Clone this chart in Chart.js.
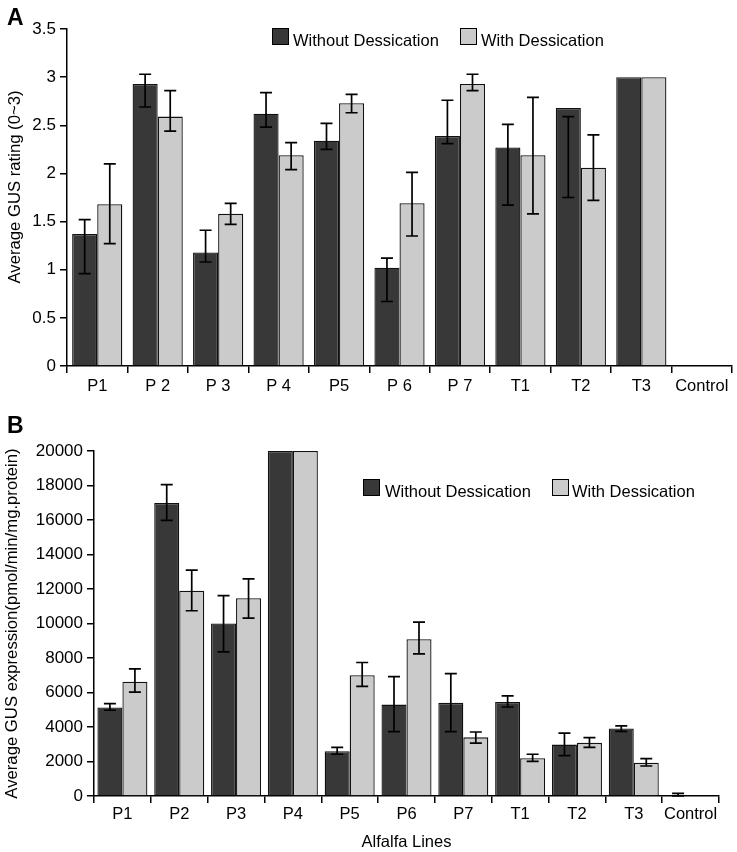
<!DOCTYPE html>
<html>
<head>
<meta charset="utf-8">
<script src="https://cdn.jsdelivr.net/npm/chart.js@4/dist/chart.umd.min.js"></script>
<style>
  body { margin: 0; background: #fff; font-family: "Liberation Sans", Arial, sans-serif; }
  #page { position: relative; width: 737px; height: 852px; overflow: hidden; }
  .panel { position: absolute; left: 0; width: 737px; }
  .tag { position: absolute; font-weight: bold; font-size: 23px; color: #000; }
  .leg { position: absolute; font-size: 16.5px; color: #000; line-height: 16px; white-space: nowrap; }
  .box { position: absolute; width: 15px; height: 15px; border: 1px solid #000; }
  .ytitle { position: absolute; font-size: 16.7px; color: #000; white-space: nowrap;
            transform: translate(-50%, -50%) rotate(-90deg); line-height: 18px; }
</style>
</head>
<body>
<div id="page">
  <div class="panel" style="top:0;height:400px"><canvas id="chartA"></canvas></div>
  <div class="panel" style="top:400px;height:452px"><canvas id="chartB"></canvas></div>

  <div class="tag" style="left:7px;top:4px">A</div>
  <div class="tag" style="left:7px;top:412px">B</div>
  <div class="ytitle" style="left:15px;top:187px">Average GUS rating (0~3)</div>

  <div class="box" style="left:272px;top:28px;background:#383838"></div>
  <div class="leg" style="left:293px;top:32px">Without Dessication</div>
  <div class="box" style="left:460px;top:28px;background:#cbcbcb"></div>
  <div class="leg" style="left:481px;top:32px">With Dessication</div>

  <div class="box" style="left:363px;top:479px;background:#383838"></div>
  <div class="leg" style="left:385px;top:483px">Without Dessication</div>
  <div class="box" style="left:552px;top:479px;background:#cbcbcb"></div>
  <div class="leg" style="left:572px;top:483px">With Dessication</div>
</div>
<script>
// Panel A: GUS rating
const categoriesA = ['P1', 'P 2', 'P 3', 'P 4', 'P5', 'P 6', 'P 7', 'T1', 'T2', 'T3', 'Control'];
const ratingWithout = [1.37, 2.93, 1.18, 2.62, 2.34, 1.02, 2.39, 2.27, 2.68, 3.0, 0];
const ratingWith = [1.68, 2.59, 1.58, 2.19, 2.73, 1.69, 2.93, 2.19, 2.06, 3.0, 0];
const ratingWithoutHi = [1.52, 3.03, 1.41, 2.84, 2.52, 1.12, 2.76, 2.51, 2.59, null, null];
const ratingWithoutLo = [0.96, 2.69, 1.08, 2.48, 2.25, 0.67, 2.31, 1.67, 1.75, null, null];
const ratingWithHi = [2.10, 2.86, 1.69, 2.32, 2.82, 2.01, 3.03, 2.79, 2.40, null, null];
const ratingWithLo = [1.27, 2.44, 1.47, 2.04, 2.63, 1.35, 2.86, 1.58, 1.72, null, null];

// Panel B: GUS expression
const categoriesB = ['P1', 'P2', 'P3', 'P4', 'P5', 'P6', 'P7', 'T1', 'T2', 'T3', 'Control'];
const exprWithout = [5130, 16980, 10000, 20000, 2590, 5300, 5400, 5450, 2980, 3910, 0];
const exprWith = [6620, 11900, 11470, 20000, 7000, 9090, 3400, 2190, 3080, 1930, 0];
const exprWithoutHi = [5360, 18050, 11620, null, 2820, 6920, 7100, 5800, 3640, 4060, 150];
const exprWithoutLo = [4970, 15980, 8360, null, 2420, 3730, 3730, 5160, 2340, 3750, 0];
const exprWithHi = [7370, 13090, 12590, null, 7740, 10080, 3710, 2420, 3380, 2170, null];
const exprWithLo = [6020, 10740, 10310, null, 6360, 8240, 3060, 2010, 2820, 1740, null];

const FONT = '"Liberation Sans", Arial, sans-serif';
const DARK = '#383838';
const LIGHT = '#cbcbcb';

// draws the whiskers from each dataset's hi/lo arrays
const errorBars = {
    id: 'errorBars',
    afterDatasetsDraw(chart) {
        const ctx = chart.ctx;
        const y = chart.scales.y;
        ctx.save();
        ctx.strokeStyle = '#000';
        ctx.lineWidth = 1.7;
        chart.data.datasets.forEach((ds, di) => {
            const meta = chart.getDatasetMeta(di);
            meta.data.forEach((bar, i) => {
                const hi = ds.errHi[i];
                const lo = ds.errLo[i];
                if (hi == null || lo == null) return;
                const x = bar.x;
                const yh = y.getPixelForValue(hi);
                const yl = y.getPixelForValue(lo);
                ctx.beginPath();
                ctx.moveTo(x, yh); ctx.lineTo(x, yl);
                ctx.moveTo(x - 6, yh); ctx.lineTo(x + 6, yh);
                ctx.moveTo(x - 6, yl); ctx.lineTo(x + 6, yl);
                ctx.stroke();
            });
        });
        ctx.restore();
    }
};

function makeChart(canvasId, cfg) {
    const ctx = document.getElementById(canvasId).getContext('2d');
    return new Chart(ctx, {
        type: 'bar',
        data: {
            labels: cfg.labels,
            datasets: [
                {
                    label: 'Without Dessication',
                    data: cfg.without,
                    errHi: cfg.withoutHi,
                    errLo: cfg.withoutLo,
                    backgroundColor: DARK,
                    borderColor: '#111',
                    borderWidth: 1.3,
                    categoryPercentage: cfg.catPct,
                    barPercentage: 1.0
                },
                {
                    label: 'With Dessication',
                    data: cfg.withD,
                    errHi: cfg.withHi,
                    errLo: cfg.withLo,
                    backgroundColor: LIGHT,
                    borderColor: '#111',
                    borderWidth: 1.3,
                    categoryPercentage: cfg.catPct,
                    barPercentage: 1.0
                }
            ]
        },
        options: {
            responsive: true,
            maintainAspectRatio: false,
            animation: false,
            layout: { padding: cfg.padding },
            plugins: {
                legend: { display: false },
                tooltip: { enabled: false }
            },
            scales: {
                x: {
                    afterFit: (s) => { s.height = cfg.xHeight; },
                    border: { display: true, color: '#000', width: 1.5 },
                    grid: {
                        display: true,
                        offset: true,
                        drawOnChartArea: false,
                        drawTicks: true,
                        tickLength: 7,
                        color: '#000',
                        lineWidth: 1.5
                    },
                    ticks: {
                        color: '#000',
                        padding: cfg.xPad,
                        maxRotation: 0,
                        autoSkip: false,
                        font: { family: FONT, size: 16.5 }
                    },
                    title: {
                        display: !!cfg.xTitle,
                        text: cfg.xTitle || '',
                        color: '#000',
                        padding: { top: 4, bottom: 0 },
                        font: { family: FONT, size: 16.5 }
                    }
                },
                y: {
                    min: 0,
                    max: cfg.yMax,
                    afterFit: (s) => { s.width = cfg.yWidth; },
                    border: { display: true, color: '#000', width: 1.5 },
                    grid: {
                        display: true,
                        drawOnChartArea: false,
                        drawTicks: true,
                        tickLength: 7,
                        color: '#000',
                        lineWidth: 1.5
                    },
                    ticks: {
                        stepSize: cfg.yStep,
                        color: '#000',
                        padding: 4,
                        font: { family: FONT, size: 17 },
                        callback: (v) => String(v)
                    },
                    title: {
                        display: !!cfg.yTitle,
                        text: cfg.yTitle || '',
                        color: '#000',
                        padding: { top: 2, bottom: 0 },
                        font: { family: FONT, size: 16.7 }
                    }
                }
            }
        },
        plugins: [errorBars]
    });
}

makeChart('chartA', {
    labels: categoriesA,
    without: ratingWithout, withoutHi: ratingWithoutHi, withoutLo: ratingWithoutLo,
    withD: ratingWith, withHi: ratingWithHi, withLo: ratingWithLo,
    catPct: 0.83,
    padding: { top: 29, right: 5, left: 0, bottom: 0 },
    xHeight: 34,
    xPad: 4,
    yWidth: 67,
    yMax: 3.5,
    yStep: 0.5
});

makeChart('chartB', {
    labels: categoriesB,
    without: exprWithout, withoutHi: exprWithoutHi, withoutLo: exprWithoutLo,
    withD: exprWith, withHi: exprWithHi, withLo: exprWithLo,
    catPct: 0.88,
    padding: { top: 51, right: 18, left: 0, bottom: 0 },
    xHeight: 56,
    xPad: 2,
    yWidth: 94,
    yMax: 20000,
    yStep: 2000,
    yTitle: 'Average GUS expression(pmol/min/mg.protein)',
    xTitle: 'Alfalfa Lines'
});
</script>
</body>
</html>
